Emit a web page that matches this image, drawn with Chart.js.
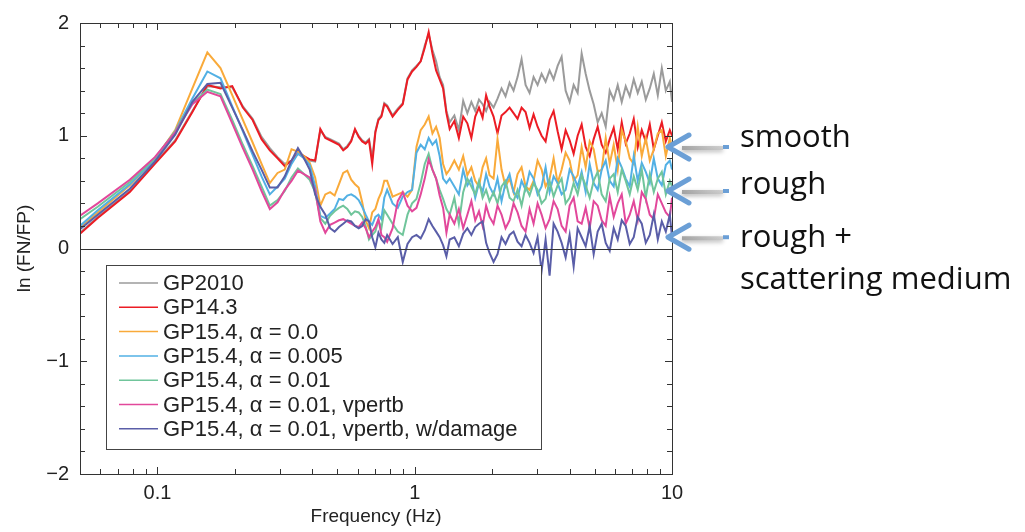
<!DOCTYPE html>
<html>
<head>
<meta charset="utf-8">
<title>ln (FN/FP)</title>
<script src="https://cdn.jsdelivr.net/npm/chart.js@4/dist/chart.umd.min.js"></script>
<style>
  html, body { margin: 0; padding: 0; background: #fff; }
  canvas { display: block; }
</style>
</head>
<body>
<canvas id="ratioChart" width="1025" height="532"></canvas>
<script>
// frequency samples (Hz)
const freq = [
  0.05, 0.0586, 0.0781, 0.0977, 0.1172, 0.1367, 0.1563, 0.1758, 0.1953, 0.2148,
  0.2344, 0.2539, 0.2734, 0.2930, 0.3125, 0.3320, 0.3516, 0.3711, 0.3906, 0.4102,
  0.4297, 0.4492, 0.4688, 0.4883, 0.5078, 0.5273, 0.5469, 0.5664, 0.5859, 0.6055,
  0.6250, 0.6445, 0.6641, 0.6836, 0.7031, 0.7227, 0.7422, 0.7617, 0.7813,
  0.8203, 0.8594, 0.8984, 0.9375, 0.9766, 1.0156, 1.0547, 1.0938, 1.1328, 1.1719,
  1.2109, 1.25, 1.2891, 1.3281, 1.3672, 1.4258, 1.4844, 1.543, 1.6016, 1.6602,
  1.7188, 1.7773, 1.8359, 1.8945, 1.9531,
  2.025, 2.098, 2.175, 2.254, 2.337, 2.422, 2.51, 2.602, 2.697, 2.795,
  2.897, 3.003, 3.113, 3.226, 3.344, 3.466, 3.593, 3.724, 3.86, 4.001,
  4.147, 4.298, 4.455, 4.618, 4.786, 4.961, 5.142, 5.33, 5.525, 5.726,
  5.935, 6.152, 6.377, 6.609, 6.851, 7.101, 7.36, 7.629, 7.908, 8.197,
  8.496, 8.806, 9.128, 9.461, 9.807, 10.0
];

const gp2010 = [
  0.14, 0.28, 0.51, 0.76, 0.96, 1.22, 1.44, 1.43, 1.43, 1.26, 1.15, 0.99, 0.89, 0.81, 0.75, 0.78, 0.85, 0.82, 0.78, 0.77,
  1.05, 0.99, 0.97, 0.95, 0.93, 0.88, 0.91, 0.96, 1.05, 1.00, 0.96, 0.94, 0.97, 0.80, 1.04, 1.15, 1.18, 1.29, 1.27,
  1.18, 1.24, 1.29, 1.51, 1.58, 1.62, 1.66, 1.80, 1.90, 1.76, 1.66, 1.52, 1.45, 1.22, 1.12, 1.18, 1.05, 1.31, 1.20, 1.30,
  1.22, 1.32, 1.28, 1.22, 1.30,
  1.25, 1.33, 1.42, 1.35, 1.47, 1.40, 1.52, 1.68, 1.45, 1.38, 1.52, 1.45, 1.55, 1.48, 1.58, 1.50, 1.62, 1.70, 1.40, 1.30,
  1.45, 1.38, 1.73, 1.55, 1.40, 1.28, 1.12, 1.20, 1.08, 1.40, 1.32, 1.45, 1.30, 1.44, 1.35, 1.50, 1.38, 1.48, 1.32, 1.42,
  1.55, 1.36, 1.60, 1.40, 1.48, 1.30
];

const gp143 = [
  0.13, 0.27, 0.50, 0.75, 0.95, 1.21, 1.45, 1.42, 1.44, 1.25, 1.14, 0.97, 0.87, 0.80, 0.73, 0.78, 0.84, 0.82, 0.79, 0.78,
  1.06, 0.98, 0.96, 0.94, 0.92, 0.87, 0.90, 0.95, 1.06, 0.99, 0.95, 0.93, 0.96, 0.75, 1.03, 1.14, 1.17, 1.28, 1.26,
  1.17, 1.23, 1.28, 1.50, 1.57, 1.61, 1.66, 1.78, 1.92, 1.73, 1.58, 1.50, 1.42, 1.20, 1.06, 1.13, 0.98, 1.17, 1.11, 0.98,
  1.17, 1.25, 1.16, 1.36, 1.26,
  1.17, 1.02, 1.18, 1.21, 1.25, 1.20, 1.15, 1.25, 1.21, 1.07, 1.19, 1.08, 1.00, 0.95, 1.14, 1.22, 1.04, 0.88, 1.05, 0.96,
  0.84, 1.00, 1.10, 0.90, 0.82, 0.97, 1.08, 0.92, 0.85, 0.97, 1.07, 0.88, 1.12, 0.93, 1.02, 1.15, 0.90, 1.05, 0.95, 1.10,
  0.88, 1.00, 1.12, 0.95, 1.05, 1.00
];

const gp154a0 = [
  0.18, 0.32, 0.56, 0.79, 1.05, 1.42, 1.74, 1.60, 1.36, 1.14, 0.94, 0.75, 0.58, 0.67, 0.70, 0.88, 0.86, 0.82, 0.76, 0.63,
  0.38, 0.48, 0.50, 0.47, 0.57, 0.67, 0.69, 0.61, 0.57, 0.54, 0.41, 0.25, 0.18, 0.32, 0.35, 0.44, 0.50, 0.60, 0.60,
  0.46, 0.48, 0.50, 0.46, 0.52, 0.90, 1.05, 1.10, 1.17, 1.02, 1.08, 0.98, 0.75, 0.66, 0.70, 0.78, 0.70, 0.82, 0.65, 0.72,
  0.60, 0.55, 0.72, 0.80, 0.65,
  0.62, 0.97, 0.70, 0.55, 0.62, 0.50, 0.66, 0.72, 0.55, 0.52, 0.60, 0.78, 0.70, 0.55, 0.62, 0.80, 0.58, 0.70, 0.85, 0.78,
  0.60, 0.65, 0.90, 0.72, 0.95, 0.88, 0.68, 0.70, 0.98, 0.75, 0.92, 0.70, 1.05, 0.95, 0.80, 0.75, 1.08, 0.82, 0.98, 0.78,
  0.88, 1.02, 1.05, 0.82, 0.98, 0.90
];

const gp154a005 = [
  0.20, 0.34, 0.57, 0.79, 1.04, 1.33, 1.57, 1.51, 1.26, 1.04, 0.83, 0.64, 0.48, 0.55, 0.62, 0.75, 0.84, 0.80, 0.74, 0.55,
  0.29, 0.27, 0.31, 0.35, 0.44, 0.43, 0.47, 0.48, 0.46, 0.43, 0.37, 0.30, 0.24, 0.21, 0.28, 0.30, 0.26, 0.45, 0.52,
  0.40, 0.36, 0.46, 0.50, 0.52, 0.85, 0.92, 0.88, 0.98, 0.92, 0.96, 0.82, 0.62, 0.58, 0.62, 0.55, 0.48, 0.70, 0.56, 0.62,
  0.45, 0.58, 0.50, 0.66, 0.55,
  0.48, 0.62, 0.42, 0.58, 0.66, 0.50, 0.45, 0.60, 0.52, 0.68, 0.62, 0.48, 0.55, 0.72, 0.50, 0.64, 0.58, 0.48, 0.52, 0.70,
  0.64, 0.55, 0.68, 0.50, 0.75, 0.58, 0.52, 0.70, 0.78, 0.60, 0.55, 0.80, 0.72, 0.62, 0.55, 0.82, 0.60, 0.76, 0.68, 0.58,
  0.80, 0.62, 0.56, 0.74, 0.78, 0.70
];

const gp154a01 = [
  0.26, 0.37, 0.59, 0.80, 1.04, 1.29, 1.41, 1.37, 1.14, 0.92, 0.73, 0.55, 0.38, 0.43, 0.51, 0.63, 0.71, 0.66, 0.61, 0.50,
  0.27, 0.22, 0.29, 0.33, 0.36, 0.38, 0.35, 0.30, 0.33, 0.32, 0.28, 0.20, 0.08, 0.12, 0.15, 0.25, 0.18, 0.34, 0.30,
  0.22, 0.15, 0.12, 0.30, 0.40, 0.44, 0.58, 0.75, 0.84, 0.70, 0.62, 0.52, 0.44, 0.35, 0.30, 0.45, 0.22, 0.50, 0.62, 0.55,
  0.48, 0.60, 0.45, 0.52, 0.42,
  0.50, 0.40, 0.55, 0.60, 0.45, 0.42, 0.52, 0.38, 0.55, 0.47, 0.58, 0.52, 0.40, 0.44, 0.60, 0.46, 0.56, 0.62, 0.40, 0.45,
  0.58, 0.48, 0.65, 0.56, 0.45, 0.60, 0.68, 0.48, 0.42, 0.62, 0.66, 0.50, 0.70, 0.60, 0.48, 0.64, 0.52, 0.70, 0.45, 0.66,
  0.50, 0.62, 0.68, 0.48, 0.60, 0.55
];

const gp154vpertb = [
  0.29, 0.40, 0.61, 0.81, 1.03, 1.28, 1.39, 1.35, 1.11, 0.89, 0.70, 0.51, 0.35, 0.41, 0.52, 0.60, 0.69, 0.66, 0.63, 0.52,
  0.24, 0.14, 0.21, 0.23, 0.25, 0.26, 0.24, 0.22, 0.20, 0.19, 0.23, 0.18, 0.10, 0.15, 0.19, 0.26, 0.12, 0.10, 0.06,
  0.18, 0.42, 0.50, 0.38, 0.33, 0.36, 0.48, 0.62, 0.79, 0.70, 0.62, 0.47, 0.36, 0.14, 0.30, 0.22, 0.35, 0.18, 0.30, 0.42,
  0.25, 0.33, 0.20, 0.38, 0.28,
  0.22, 0.38, 0.30, 0.18, 0.25, 0.40, 0.32, 0.20, 0.15, 0.35, 0.22, 0.40, 0.30, 0.18, 0.26, 0.42, 0.35, 0.20, 0.15, 0.38,
  0.45, 0.24, 0.22, 0.36, 0.18, 0.42, 0.38, 0.25, 0.20, 0.46, 0.28, 0.40, 0.48, 0.22, 0.30, 0.42, 0.25, 0.50, 0.44, 0.30,
  0.26, 0.48, 0.40, 0.32, 0.28, 0.45
];

const gp154damage = [
  0.17, 0.30, 0.53, 0.77, 1.01, 1.30, 1.46, 1.47, 1.25, 1.05, 0.86, 0.70, 0.54, 0.54, 0.64, 0.78, 0.89, 0.80, 0.70, 0.48,
  0.37, 0.30, 0.18, 0.15, 0.19, 0.22, 0.25, 0.24, 0.20, 0.18, 0.20, 0.26, 0.24, 0.10, 0.01, 0.14, 0.08, 0.05, 0.12,
  0.04, 0.10, -0.12, 0.04, 0.10, 0.12, 0.09, 0.16, 0.26, 0.20, 0.15, 0.10, 0.03, -0.07, 0.08, 0.10, 0.02, 0.13, 0.18, 0.12,
  0.19, 0.22, 0.24, 0.05, -0.04,
  -0.12, -0.05, 0.10, 0.04, 0.12, 0.15, 0.06, 0.02, 0.12, 0.05, -0.04, 0.10, -0.20, 0.08, -0.24, 0.22, 0.15, 0.05, -0.08, 0.12,
  -0.16, 0.18, 0.10, 0.02, 0.20, -0.05, 0.15, 0.22, 0.05, -0.02, 0.18, 0.08, 0.25, 0.20, 0.04, 0.10, 0.28, 0.22, 0.05, 0.12,
  0.30, 0.08, 0.24, 0.15, 0.30, 0.10
];

const seriesNames = [
  'GP2010',
  'GP14.3',
  'GP15.4, \u03b1 = 0.0',
  'GP15.4, \u03b1 = 0.005',
  'GP15.4, \u03b1 = 0.01',
  'GP15.4, \u03b1 = 0.01, vpertb',
  'GP15.4, \u03b1 = 0.01, vpertb, w/damage'
];
const seriesValues = [gp2010, gp143, gp154a0, gp154a005, gp154a01, gp154vpertb, gp154damage];
const seriesColors = ['#9b9b9b', '#ec1c24', '#f9aa3a', '#52b0e4', '#70c59b', '#e2489b', '#5a5ea8'];

const yTicks = [-2, -1, 0, 1, 2];
const xTicks = [0.1, 1, 10];

// side notes and the level each arrow points at
const notes = ['smooth', 'rough', 'rough +', 'scattering medium'];
const arrowLevels = [0.9, 0.51, 0.1];

Chart.defaults.font.family = '"Liberation Sans", Arial, Helvetica, sans-serif';
Chart.defaults.color = '#222';

const datasets = seriesValues.map((vals, i) => ({
  label: seriesNames[i],
  data: vals.map((v, j) => ({x: freq[j], y: v})),
  borderColor: seriesColors[i],
  backgroundColor: seriesColors[i],
  borderWidth: 2,
  pointRadius: 0,
  tension: 0,
  order: seriesValues.length - i
}));

const frame = {
  id: 'frame',
  afterDatasetsDraw(chart) {
    const ctx = chart.ctx;
    const a = chart.chartArea;
    const x = chart.scales.x;
    const y = chart.scales.y;
    ctx.save();
    ctx.strokeStyle = '#333';
    ctx.lineWidth = 1;

    // zero line
    const y0 = Math.round(y.getPixelForValue(0)) + 0.5;
    ctx.beginPath();
    ctx.moveTo(a.left, y0);
    ctx.lineTo(a.right, y0);
    ctx.stroke();

    // box
    ctx.strokeRect(a.left + 0.5, a.top + 0.5, a.right - a.left, a.bottom - a.top);

    // inward ticks, y every 0.2
    ctx.beginPath();
    for (let i = -10; i <= 10; i++) {
      const py = Math.round(y.getPixelForValue(i / 5)) + 0.5;
      const len = i % 5 === 0 ? 7 : 5;
      ctx.moveTo(a.left, py); ctx.lineTo(a.left + len, py);
      ctx.moveTo(a.right, py); ctx.lineTo(a.right - len, py);
    }
    // log ticks on x
    [0.01, 0.1, 1, 10].forEach(d => {
      for (let m = 1; m <= 9; m++) {
        const f = m * d;
        if (f < 0.05 - 1e-9 || f > 10 + 1e-9) continue;
        const px = Math.round(x.getPixelForValue(f)) + 0.5;
        const len = m === 1 ? 7 : 5;
        ctx.moveTo(px, a.bottom); ctx.lineTo(px, a.bottom - len);
        ctx.moveTo(px, a.top); ctx.lineTo(px, a.top + len);
      }
    });
    ctx.stroke();
    ctx.restore();
  },
  afterDraw(chart) {
    const ctx = chart.ctx;
    const a = chart.chartArea;
    const y = chart.scales.y;
    ctx.save();

    // legend box
    const lx = a.left + 26, ly = 265, lw = 435, lh = 184;
    ctx.fillStyle = '#fff';
    ctx.fillRect(lx, ly, lw, lh);
    ctx.strokeStyle = '#444';
    ctx.lineWidth = 1;
    ctx.strokeRect(lx + 0.5, ly + 0.5, lw, lh);
    ctx.font = '22px "Liberation Sans", Arial, sans-serif';
    ctx.textBaseline = 'middle';
    ctx.textAlign = 'left';
    seriesNames.forEach((name, i) => {
      const ry = ly + 18 + i * 24.3;
      ctx.strokeStyle = seriesColors[i];
      ctx.lineWidth = 1.5;
      ctx.beginPath();
      ctx.moveTo(lx + 13, ry);
      ctx.lineTo(lx + 52, ry);
      ctx.stroke();
      ctx.fillStyle = '#222';
      ctx.fillText(name, lx + 57, ry + 1);
    });

    // arrows on the right
    arrowLevels.forEach(level => {
      const py = y.getPixelForValue(level);
      const tip = a.right - 4;
      ctx.save();
      ctx.shadowColor = 'rgba(0,0,0,0.35)';
      ctx.shadowBlur = 4;
      ctx.shadowOffsetY = 2;
      const g = ctx.createLinearGradient(tip + 14, 0, tip + 56, 0);
      g.addColorStop(0, 'rgba(160,160,160,0.95)');
      g.addColorStop(1, 'rgba(195,195,195,0.7)');
      ctx.strokeStyle = g;
      ctx.lineWidth = 4;
      ctx.beginPath();
      ctx.moveTo(tip + 14, py + 1);
      ctx.lineTo(tip + 55, py + 1);
      ctx.stroke();
      ctx.restore();

      ctx.strokeStyle = '#6b9fd6';
      ctx.lineWidth = 5;
      ctx.lineCap = 'round';
      ctx.lineJoin = 'round';
      ctx.beginPath();
      ctx.moveTo(tip + 21, py - 12);
      ctx.lineTo(tip, py);
      ctx.lineTo(tip + 21, py + 12);
      ctx.stroke();
      ctx.lineCap = 'butt';
      ctx.lineWidth = 4;
      ctx.beginPath();
      ctx.moveTo(tip + 55, py);
      ctx.lineTo(tip + 61, py);
      ctx.stroke();
    });

    ctx.fillStyle = '#111';
    ctx.font = '31px "Open Sans", "Noto Sans", sans-serif';
    ctx.textBaseline = 'alphabetic';
    const baselines = [147, 194, 247, 289];
    notes.forEach((t, i) => ctx.fillText(t, 740, baselines[i]));
    ctx.restore();
  }
};

new Chart(document.getElementById('ratioChart'), {
  type: 'line',
  data: {datasets: datasets},
  options: {
    responsive: false,
    animation: false,
    devicePixelRatio: 1,
    layout: {padding: {top: 14, right: 353, left: 0, bottom: 0}},
    plugins: {
      legend: {display: false},
      tooltip: {enabled: false}
    },
    scales: {
      x: {
        type: 'logarithmic',
        min: 0.05,
        max: 10,
        grid: {display: false, drawTicks: false},
        border: {display: false},
        afterBuildTicks: s => { s.ticks = xTicks.map(v => ({value: v})); },
        afterFit: s => { s.height = 58; },
        ticks: {
          autoSkip: false,
          maxRotation: 0,
          padding: 7,
          font: {size: 20},
          callback: v => String(v)
        },
        title: {display: true, text: 'Frequency (Hz)', font: {size: 19}, padding: {top: 0, bottom: 4}}
      },
      y: {
        min: -2,
        max: 2,
        grid: {display: false, drawTicks: false},
        border: {display: false},
        afterBuildTicks: s => { s.ticks = yTicks.map(v => ({value: v})); },
        afterFit: s => { s.width = 80; },
        ticks: {
          padding: 11,
          font: {size: 20},
          callback: v => String(v).replace('-', '\u2212')
        },
        title: {display: true, text: 'ln (FN/FP)', font: {size: 19}, padding: {top: 13, bottom: 0}}
      }
    }
  },
  plugins: [frame]
});
</script>
</body>
</html>
